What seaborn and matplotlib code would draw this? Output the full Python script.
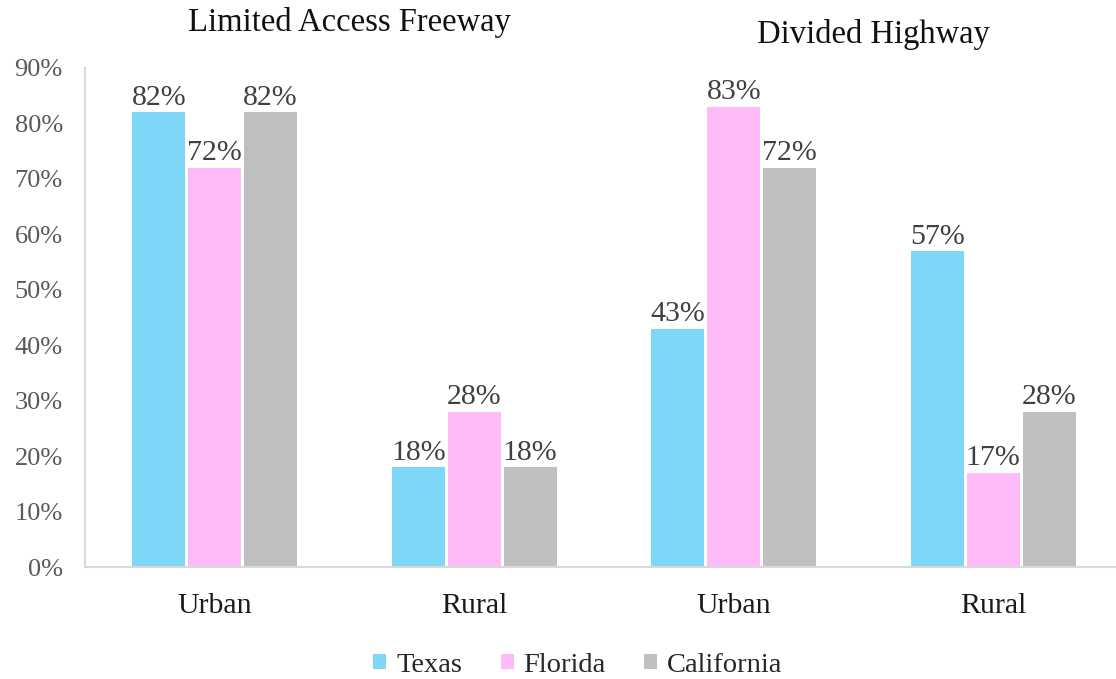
import matplotlib
matplotlib.use("Agg")
import matplotlib.pyplot as plt
import seaborn as sns
import pandas as pd
from matplotlib.patches import Patch

# ---- data ----
categories = ["LAF Urban", "LAF Rural", "DH Urban", "DH Rural"]
tick_labels = ["Urban", "Rural", "Urban", "Rural"]
group_titles = ["Limited Access Freeway", "Divided Highway"]
states = ["Texas", "Florida", "California"]
texas = [82, 18, 43, 57]
florida = [72, 28, 83, 17]
california = [82, 18, 72, 28]
colors = ["#7FD7F7", "#FFBBF7", "#BFBFBF"]

rows = []
for st, vals in zip(states, [texas, florida, california]):
    for c, v in zip(categories, vals):
        rows.append({"cat": c, "val": v, "state": st})
df = pd.DataFrame(rows)

sns.set_theme(style="white")
plt.rcParams["font.family"] = ["Liberation Serif", "DejaVu Serif"]

fig = plt.figure(figsize=(11.16, 6.79), dpi=100)
W, H = 1116, 679
ax = fig.add_axes([85 / W, 112 / H, 1038 / W, 499 / H])

sns.barplot(data=df, x="cat", y="val", hue="state", order=categories,
            hue_order=states, palette=colors, width=0.646, gap=0.054,
            saturation=1, ax=ax, legend=False, linewidth=0)

ax.set_xlim(-0.5, 3.5)
ax.set_ylim(0, 90)
ax.set_yticks(range(0, 91, 10))
ax.set_yticklabels([f"{v}%" for v in range(0, 91, 10)], fontsize=19, color="#595959")
ax.set_xticks(range(len(categories)))
ax.set_xticklabels(tick_labels, fontsize=21.5, color="#1a1a1a")
ax.tick_params(axis="y", length=0, pad=16)
ax.tick_params(axis="x", length=0, pad=19)
ax.set_xlabel("")
ax.set_ylabel("")

for s in ["top", "right"]:
    ax.spines[s].set_visible(False)
for s in ["left", "bottom"]:
    ax.spines[s].set_color("#D9D9D9")
    ax.spines[s].set_linewidth(1.5)

for cont in ax.containers:
    ax.bar_label(cont, fmt="%g%%", fontsize=21.5, color="#404040", padding=1)

ax.annotate(group_titles[0], xy=(0.52, 1 - 23 / H), xycoords=("data", "figure fraction"),
            ha="center", va="center", fontsize=23.5, color="#111111")
ax.annotate(group_titles[1], xy=(2.54, 1 - 35 / H), xycoords=("data", "figure fraction"),
            ha="center", va="center", fontsize=23.5, color="#111111")

handles = [Patch(facecolor=c, edgecolor="none") for c in colors]
fig.legend(handles, states, loc="center", bbox_to_anchor=(578 / W, 1 - 665 / H),
           ncol=3, frameon=False, fontsize=20.5, handlelength=0.45, handleheight=0.45,
           handletextpad=0.35, columnspacing=1.36, borderaxespad=0, borderpad=0)

fig.savefig("out.png", dpi=100)
